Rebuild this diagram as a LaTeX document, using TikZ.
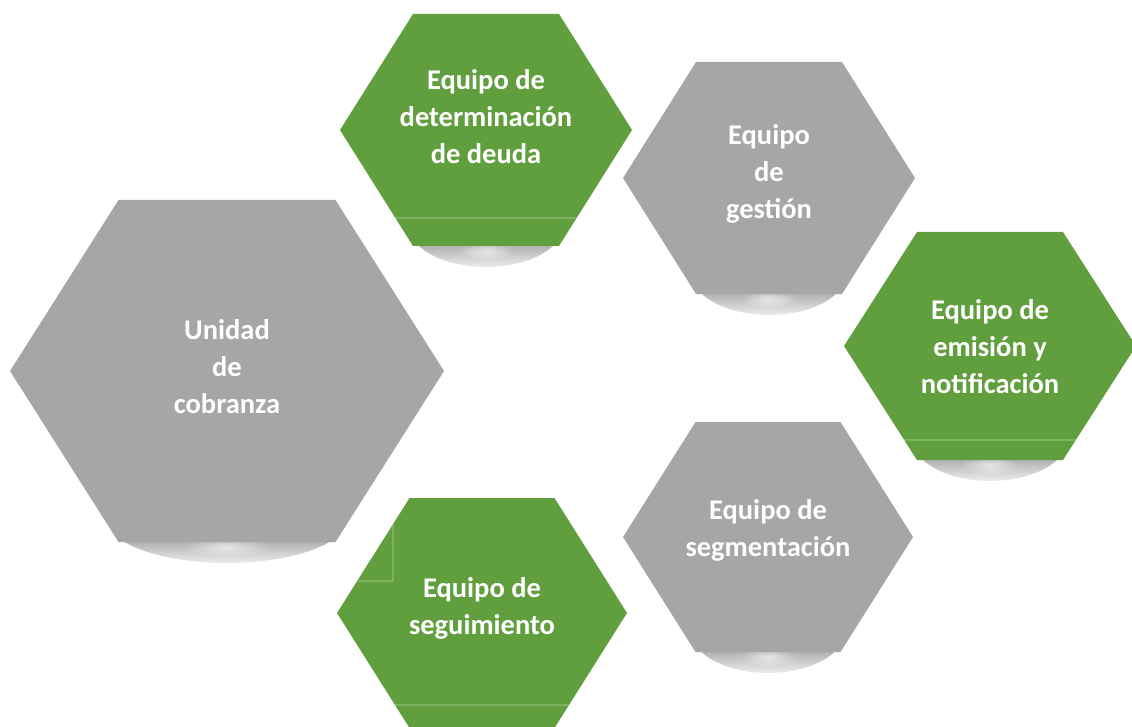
\documentclass[tikz,border=0pt]{standalone}
\usepackage{fontspec}
\setmainfont{Carlito}
\usetikzlibrary{calc}
\usetikzlibrary{fadings}
\definecolor{hexgreen}{RGB}{96,158,62}
\definecolor{hexgrey}{RGB}{166,166,164}
\tikzfading[name=softspot, inner color=transparent!0, outer color=transparent!100]
\tikzstyle{greenhex} = [fill=hexgreen]
\tikzstyle{greyhex} = [fill=hexgrey]
\tikzstyle{hexlabel} = [align=center, text=white, inner sep=0pt,
font=\bfseries\fontsize{28.5}{37}\selectfont]
\tikzstyle{seam} = [draw=white, draw opacity=0.2, line width=1.2pt]
\newcommand{\hexcell}[4][]{ %
  % Shadow, then hexagon of half-width #3 and half-height #4 round #2.
  \begin{scope}[shift={(#2)}]
    \shade[top color=black!30, bottom color=white]
      (-#3/2+6,#4) .. controls (-#3/4,#4+28) and (#3/4,#4+28) .. (#3/2-6,#4) -- cycle;
    \fill[white, opacity=0.6, path fading=softspot] (0,#4+5) ellipse ({#3/5} and 10);
    \path[#1] (-#3,0) -- (-#3/2,-#4) -- (#3/2,-#4) -- (#3,0)
      -- (#3/2,#4) -- (-#3/2,#4) -- cycle;
  \end{scope}
}
\newcommand{\seam}[4]{ %
  % Light line across hexagon #1, #4 above its bottom edge.
  \draw[seam] ($(#1)+({-#2/2-#2/2*#4/#3},{#3-#4})$)
    -- ($(#1)+({#2/2+#2/2*#4/#3},{#3-#4})$);
}

\begin{document}
\begin{tikzpicture}[x=1pt, y=-1pt]
  \useasboundingbox (0,0) rectangle (1132,727);

  \coordinate (cobranza) at (227,371);
  \coordinate (deuda) at (486,130);
  \coordinate (gestion) at (769,178);
  \coordinate (emision) at (990,346);
  \coordinate (segment) at (768,537);
  \coordinate (seguim) at (482,613);

  \hexcell[greyhex]{cobranza}{217}{171};
  \hexcell[greenhex]{deuda}{146}{116};
  \hexcell[greyhex]{gestion}{146}{116};
  \hexcell[greenhex]{emision}{146}{114};
  \hexcell[greyhex]{segment}{145}{115};
  \hexcell[greenhex]{seguim}{145}{115};

  \seam{deuda}{146}{116}{28};
  \seam{emision}{146}{114}{20};
  \seam{seguim}{145}{115}{23};
  \draw[seam] ($(seguim)+(-125,-32)$) -- ($(seguim)+(-89,-32)$)
    -- ($(seguim)+(-89,-115)$);

  \node[hexlabel] (lcobranza) at ($(cobranza)+(0,-4)$) {Unidad\\de\\cobranza};
  \node[hexlabel] (ldeuda) at ($(deuda)+(0,-13)$) {Equipo de\\determinación\\de deuda};
  \node[hexlabel] (lgestion) at ($(gestion)+(0,-4)$) {Equipo\\de\\gestión};
  \node[hexlabel] (lemision) at ($(emision)+(0,1)$) {Equipo de\\emisión y\\notificación};
  \node[hexlabel] (lsegment) at ($(segment)+(0,-7)$) {Equipo de\\segmentación};
  \node[hexlabel] (lseguim) at ($(seguim)+(0,-5)$) {Equipo de\\seguimiento};
\end{tikzpicture}
\end{document}
